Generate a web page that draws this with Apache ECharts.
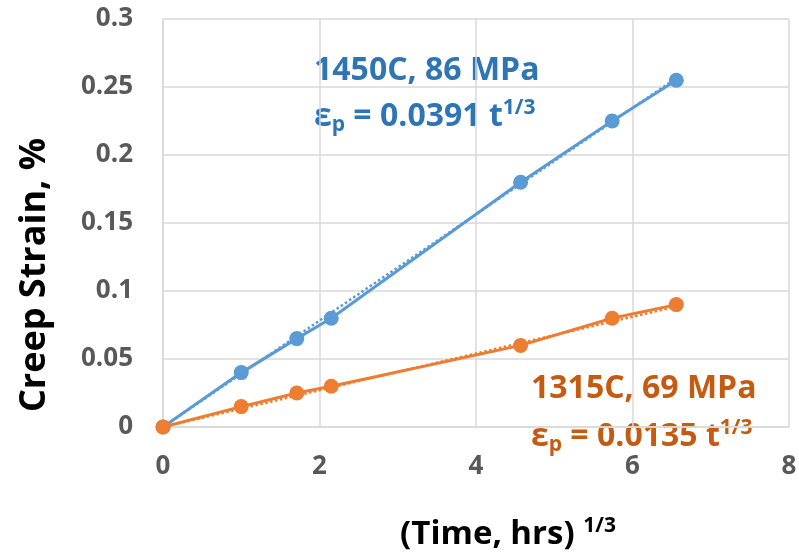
<!DOCTYPE html>
<html>
<head>
<meta charset="utf-8">
<script src="https://cdn.jsdelivr.net/npm/echarts@6/dist/echarts.min.js"></script>
<style>
  html, body { margin: 0; padding: 0; background: #fff; }
  #chart_creep { width: 799px; height: 558px; }
</style>
</head>
<body>
<div id="chart_creep"></div>
<script>
// (time, hrs)^(1/3)
var xValues = [0, 1, 1.71, 2.15, 4.57, 5.74, 6.56];
// creep strain, %
var blueValues = [0, 0.04, 0.065, 0.08, 0.18, 0.225, 0.255];
var orangeValues = [0, 0.015, 0.025, 0.03, 0.06, 0.08, 0.09];
// trendlines (start / end points)
var trendX = [0, 6.56];
var blueTrend = [0, 0.2565];
var orangeTrend = [0, 0.0886];

var FONT = '"Open Sans", "Noto Sans", sans-serif';

function pairs(xs, ys) {
    var out = [];
    for (var i = 0; i < xs.length; i++) out.push([xs[i], ys[i]]);
    return out;
}

var chart = echarts.init(document.getElementById('chart_creep'));

function eqRich(color) {
    return {
        m: { fontSize: 32, fontWeight: 'bold', fill: color, fontFamily: FONT },
        sub: { fontSize: 21, fontWeight: 'bold', fill: color, fontFamily: FONT, padding: [18, 0, 0, 0] },
        sup: { fontSize: 21, fontWeight: 'bold', fill: color, fontFamily: FONT, padding: [0, 0, 16, 0] }
    };
}

var option = {
    animation: false,
    backgroundColor: '#fff',
    grid: { left: 163, right: 10, top: 19, bottom: 131, outerBoundsMode: 'none', containLabel: false },
    xAxis: {
        type: 'value',
        min: 0, max: 8, interval: 2,
        name: '{t|(Time, hrs) }{s|1/3}',
        nameLocation: 'middle',
        nameGap: 89,
        nameTextStyle: {
            padding: [0, 0, 0, 64],
            rich: {
                t: { fontSize: 33, fontWeight: 'bold', color: '#000', fontFamily: FONT },
                s: { fontSize: 21, fontWeight: 'bold', color: '#000', fontFamily: FONT, padding: [0, 0, 16, 0] }
            }
        },
        axisLine: { show: true, lineStyle: { color: '#D9D9D9', width: 1.5 } },
        axisTick: { show: false },
        axisLabel: { margin: 27, fontSize: 26, fontWeight: 'bold', color: '#595959', fontFamily: FONT },
        splitLine: { show: true, lineStyle: { color: '#D9D9D9', width: 1.5 } }
    },
    yAxis: {
        type: 'value',
        min: 0, max: 0.3, interval: 0.05,
        name: 'Creep Strain, %',
        nameLocation: 'middle',
        nameGap: 110,
        nameTextStyle: { fontSize: 36, fontWeight: 'bold', color: '#000', fontFamily: FONT, padding: [0, 104, 0, 0] },
        axisLine: { show: true, lineStyle: { color: '#D9D9D9', width: 1.5 } },
        axisTick: { show: false },
        axisLabel: { margin: 30, fontSize: 26, fontWeight: 'bold', color: '#595959', fontFamily: FONT },
        splitLine: { show: true, lineStyle: { color: '#D9D9D9', width: 1.5 } }
    },
    graphic: [
        {
            type: 'text', left: 314, top: 55,
            style: { text: '1450C, 86 MPa', fontSize: 32, fontWeight: 'bold', fill: '#2E75B6', fontFamily: FONT }
        },
        {
            type: 'text', left: 314, top: 98,
            style: { text: '{m|ε}{sub|p}{m| = 0.0391 t}{sup|1/3}', rich: eqRich('#2E75B6') }
        },
        {
            type: 'text', left: 531, top: 373,
            style: { text: '1315C, 69 MPa', fontSize: 32, fontWeight: 'bold', fill: '#C55A11', fontFamily: FONT }
        },
        {
            type: 'text', left: 531, top: 418,
            style: { text: '{m|ε}{sub|p}{m| = 0.0135 t}{sup|1/3}', rich: eqRich('#C55A11') }
        }
    ],
    series: [
        {
            name: '1450C trend', type: 'line', data: pairs(trendX, blueTrend),
            symbol: 'none', lineStyle: { color: '#5B9BD5', width: 2.5, type: 'dotted' }, z: 2
        },
        {
            name: '1315C trend', type: 'line', data: pairs(trendX, orangeTrend),
            symbol: 'none', lineStyle: { color: '#ED7D31', width: 2.5, type: 'dotted' }, z: 2
        },
        {
            name: '1450C, 86 MPa', type: 'line', data: pairs(xValues, blueValues),
            symbol: 'circle', symbolSize: 15,
            itemStyle: { color: '#5B9BD5' },
            lineStyle: { color: '#5B9BD5', width: 3 }, z: 3
        },
        {
            name: '1315C, 69 MPa', type: 'line', data: pairs(xValues, orangeValues),
            symbol: 'circle', symbolSize: 15,
            itemStyle: { color: '#ED7D31' },
            lineStyle: { color: '#ED7D31', width: 3 }, z: 4
        }
    ]
};

chart.setOption(option);
</script>
</body>
</html>
